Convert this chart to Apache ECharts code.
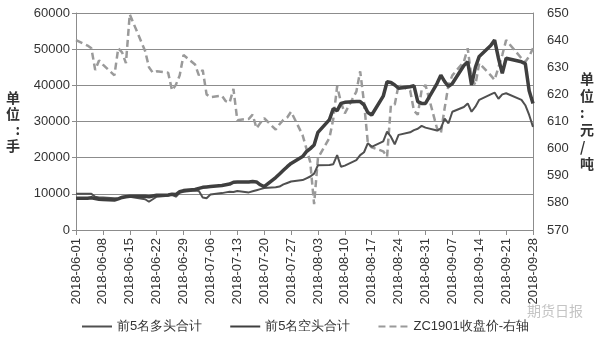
<!DOCTYPE html>
<html>
<head>
<meta charset="utf-8">
<script src="https://cdn.jsdelivr.net/npm/echarts@6/dist/echarts.min.js"></script>
<style>
html, body { margin: 0; padding: 0; background: #fff; }
#main { width: 600px; height: 339px; }
</style>
</head>
<body>
<div id="main"></div>
<script>
// trading days (weekends and holidays have no value)
var tradeDates = [
    '2018-06-01', '2018-06-04', '2018-06-05', '2018-06-06', '2018-06-07', '2018-06-08',
    '2018-06-11', '2018-06-12', '2018-06-13', '2018-06-14', '2018-06-15',
    '2018-06-19', '2018-06-20', '2018-06-21', '2018-06-22',
    '2018-06-25', '2018-06-26', '2018-06-27', '2018-06-28', '2018-06-29',
    '2018-07-02', '2018-07-03', '2018-07-04', '2018-07-05', '2018-07-06',
    '2018-07-09', '2018-07-10', '2018-07-11', '2018-07-12', '2018-07-13',
    '2018-07-16', '2018-07-17', '2018-07-18', '2018-07-19', '2018-07-20',
    '2018-07-23', '2018-07-24', '2018-07-25', '2018-07-26', '2018-07-27',
    '2018-07-30', '2018-07-31', '2018-08-01', '2018-08-02', '2018-08-03',
    '2018-08-06', '2018-08-07', '2018-08-08', '2018-08-09', '2018-08-10',
    '2018-08-13', '2018-08-14', '2018-08-15', '2018-08-16', '2018-08-17',
    '2018-08-20', '2018-08-21', '2018-08-22', '2018-08-23', '2018-08-24',
    '2018-08-27', '2018-08-28', '2018-08-29', '2018-08-30', '2018-08-31',
    '2018-09-03', '2018-09-04', '2018-09-05', '2018-09-06', '2018-09-07',
    '2018-09-10', '2018-09-11', '2018-09-12', '2018-09-13', '2018-09-14',
    '2018-09-17', '2018-09-18', '2018-09-19', '2018-09-20', '2018-09-21',
    '2018-09-25', '2018-09-26', '2018-09-27', '2018-09-28'
];

var longTop5 = [
    10000, 10000, 10000, 9200, 9000, 9000,
    8800, 8700, 9200, 9300, 9200,
    8500, 7800, 8500, 9200,
    9500, 9800, 9200, 10300, 10600,
    10900, 10800, 9000, 8800, 9800,
    10200, 10400, 10600, 10500, 10800,
    10400, 10700, 11000, 11300, 11600,
    11800, 12000, 12600, 13000, 13400,
    13800, 14300, 14800, 15600, 17900,
    18000, 18200, 20700, 17500, 17800,
    19300, 20700, 21500, 24000, 23000,
    24500, 27200, 25800, 23700, 26300,
    27000, 27600, 28000, 28800, 28300,
    27500, 28100, 30800, 29500, 32700,
    34000, 35000, 32700, 34100, 36000,
    37500, 38000, 36300, 37500, 37800,
    36000, 34500, 31800, 28500
];

var shortTop5 = [
    8800, 8800, 8900, 8700, 8500, 8400,
    8300, 8600, 9000, 9200, 9300,
    9300, 9200, 9400, 9600,
    9700, 9900, 9800, 10600, 10900,
    11200, 11500, 11800, 11900, 12000,
    12300, 12500, 12700, 13200, 13300,
    13300, 13400, 13300, 12500, 12000,
    14500, 15500, 16500, 17500, 18400,
    20300, 21650, 22500, 23500, 27000,
    30500, 33600, 33000, 35000, 35300,
    35500, 35500, 34600, 32500, 31800,
    37000, 41000, 40800, 40100, 39200,
    39600, 39900, 35500, 35000, 35000,
    40500, 42800, 41000, 39700, 40500,
    45500, 46500, 40100, 45000, 48000,
    51000, 52500, 47500, 43300, 47500,
    46500, 46000, 38500, 35000
];

var closeZC1901 = [
    640, 638, 637, 629, 632.5, 631,
    627, 637, 635.5, 631.5, 649.5,
    636, 630, 628, 628.5,
    628, 621.5, 623.5, 627, 634.5,
    631, 627, 629, 620, 619,
    619.5, 617.5, 617, 622, 610.5,
    611, 612.5, 607.5, 609.5, 611.2,
    607, 609, 610.6, 611.5, 613.6,
    605, 600, 595, 579.5, 596.5,
    604, 611, 623, 617, 613,
    621, 628.5, 617, 602, 600.5,
    599, 597, 616, 616.3, 623.5,
    621.5, 614, 612.5, 621.6, 623.5,
    607.5, 605.6, 615, 623.5, 627,
    632, 637, 626, 623.5, 631.5,
    627, 625.3, 630, 634.5, 640,
    633.3, 632, 634, 637
];

var seriesNames = ['前5名多头合计', '前5名空头合计', 'ZC1901收盘价-右轴'];

// every calendar day from first to last trading day, so the axis is date-spaced
function pad(n) { return n < 10 ? '0' + n : '' + n; }
var calendar = [];
var t0 = Date.UTC(2018, 5, 1), t1 = Date.UTC(2018, 8, 28);
for (var t = t0; t <= t1; t += 86400000) {
    var d = new Date(t);
    calendar.push(d.getUTCFullYear() + '-' + pad(d.getUTCMonth() + 1) + '-' + pad(d.getUTCDate()));
}
function onCalendar(values) {
    var map = {};
    tradeDates.forEach(function(day, i) { map[day] = values[i]; });
    return calendar.map(function(day) { return map.hasOwnProperty(day) ? map[day] : null; });
}

var chart = echarts.init(document.getElementById('main'));
var labelFont = { fontFamily: 'Liberation Sans', fontSize: 13, color: '#333' };

var option = {
    animation: false,
    backgroundColor: '#fff',
    grid: { left: 76, right: 67, top: 13, bottom: 109 },
    legend: {
        left: 76,
        top: 315,
        itemWidth: 30,
        itemHeight: 10,
        itemGap: 27,
        itemStyle: { opacity: 0 },
        textStyle: { fontFamily: 'Liberation Sans', fontSize: 13, color: '#333' },
        data: seriesNames
    },
    xAxis: {
        type: 'category',
        data: calendar,
        boundaryGap: false,
        axisLine: { lineStyle: { color: '#8c8c8c', width: 1 } },
        axisTick: { interval: 6, length: 5, lineStyle: { color: '#8c8c8c' } },
        axisLabel: Object.assign({ interval: 6, rotate: 90, margin: 8 }, labelFont),
        splitLine: { show: false }
    },
    yAxis: [{
        type: 'value',
        min: 0,
        max: 60000,
        interval: 10000,
        name: '单\n位\n:\n手',
        nameLocation: 'middle',
        nameRotate: 0,
        nameGap: 56,
        nameTextStyle: { fontFamily: 'Noto Sans CJK SC', fontSize: 14, fontWeight: 'bold', color: '#333', lineHeight: 16 },
        axisLine: { show: true, lineStyle: { color: '#8c8c8c' } },
        axisTick: { show: true, length: 4, lineStyle: { color: '#8c8c8c' } },
        axisLabel: Object.assign({ margin: 6, formatter: function(v) { return String(v); } }, labelFont),
        splitLine: { lineStyle: { color: '#8c8c8c', width: 1 } }
    }, {
        type: 'value',
        min: 570,
        max: 650,
        interval: 10,
        name: '单\n位\n:\n元\n/\n吨',
        nameLocation: 'middle',
        nameRotate: 0,
        nameGap: 47,
        nameTextStyle: { fontFamily: 'Noto Sans CJK SC', fontSize: 14, fontWeight: 'bold', color: '#333', lineHeight: 17 },
        axisLine: { show: true, lineStyle: { color: '#8c8c8c' } },
        axisTick: { show: false },
        axisLabel: Object.assign({ margin: 14 }, labelFont),
        splitLine: { show: false }
    }],
    graphic: [{
        type: 'text',
        left: 527,
        top: 304,
        style: { text: '期货日报', fontFamily: 'Noto Sans CJK SC', fontSize: 14, fill: '#c4c4c4' }
    }],
    series: [{
        name: seriesNames[0],
        type: 'line',
        data: onCalendar(longTop5),
        connectNulls: true,
        showSymbol: false,
        symbol: 'none',
        z: 3,
        lineStyle: { color: '#505050', width: 2 },
        itemStyle: { color: '#505050' }
    }, {
        name: seriesNames[1],
        type: 'line',
        data: onCalendar(shortTop5),
        connectNulls: true,
        showSymbol: false,
        symbol: 'none',
        z: 4,
        lineStyle: { color: '#3f3f3f', width: 3.5 },
        itemStyle: { color: '#3f3f3f' }
    }, {
        name: seriesNames[2],
        type: 'line',
        yAxisIndex: 1,
        data: onCalendar(closeZC1901),
        connectNulls: true,
        showSymbol: false,
        symbol: 'none',
        z: 2,
        lineStyle: { color: '#9a9a9a', width: 2.5, type: [7, 4] },
        itemStyle: { color: '#9a9a9a' }
    }]
};

chart.setOption(option);
</script>
</body>
</html>
